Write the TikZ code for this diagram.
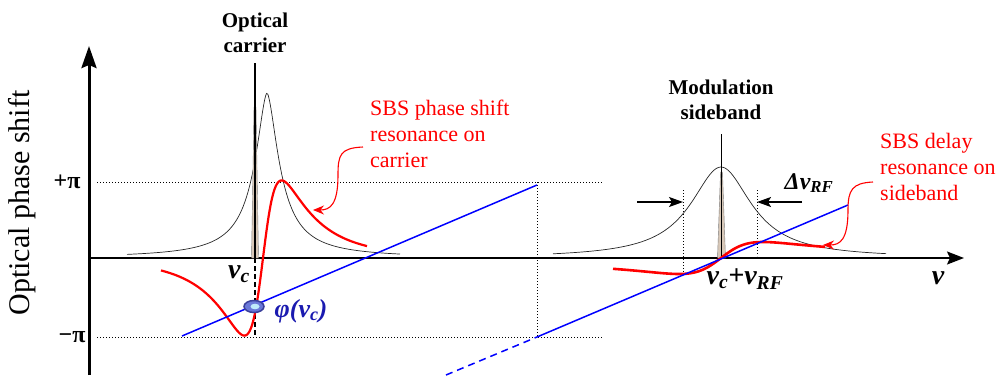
\documentclass[tikz,border=0pt]{standalone}
\usepackage{fontspec}
\setmainfont{Liberation Serif}
\usepackage{tikz}
\usetikzlibrary{arrows.meta}
\definecolor{spikeTan}{HTML}{D8C8B8}
\definecolor{phiBlue}{HTML}{1A1AB0}
\definecolor{markEdge}{HTML}{3A3F9A}
\definecolor{markFill}{HTML}{6A78D8}
\newcommand{\sbsfont}{\fontsize{22}{26}\selectfont}
\newcommand{\lblfont}{\fontsize{21}{25}\selectfont\bfseries}
\newcommand{\symfont}[1]{\fontsize{#1}{#1}\selectfont\bfseries\itshape}

\begin{document}
\begin{tikzpicture}[x=1pt, y=-1pt, >=Stealth,
  lbl/.style={font=\lblfont, align=center, inner sep=0pt},
  sbs/.style={text=red, font=\sbsfont, align=left, inner sep=0pt, anchor=north west},
  sym/.style={font=\symfont{28}, inner sep=0pt},
  gdot/.style={line width=0.9pt, dash pattern=on 1pt off 2pt},
  lor/.style={black!85, line width=0.7pt},
  callout/.style={red, line width=1.1pt, -{Stealth[length=11pt,width=9pt]}}]
  \useasboundingbox (0,0) rectangle (1000,375);
  % guides at +pi / -pi
  \foreach \yy in {182,337}{\draw[gdot] (97,\yy) -- (603,\yy);}
  \draw[gdot] (537,182) -- (537,337);
  \draw[gdot] (683,190) -- (683,272);
  \draw[gdot] (757,190) -- (757,256);
  % axes
  \draw[line width=3pt, -{Stealth[length=22pt,width=15pt,inset=3pt]}] (89,375) -- (89,46);
  \draw[line width=1.8pt, -{Stealth[length=17pt,width=13pt,inset=3pt]}] (88,258) -- (964,258);
  % carrier spectrum
  \draw[lor, domain=127:400, samples=220, smooth] plot (\x, {258-165/(1+pow(abs(\x-267)/15+0.001,1.7))});
  \filldraw[fill=spikeTan, draw=black!50, line width=0.4pt] (251.5,258) -- (254,107) -- (256,107) -- (258.5,258) -- cycle;
  \draw[line width=1.1pt] (255,258) -- (255,63);
  % sideband spectrum
  \draw[lor, domain=553:886, samples=160, smooth] plot (\x, {258-91/(1+((\x-721)/37)^2)});
  \filldraw[fill=spikeTan, draw=black!50, line width=0.4pt] (717.5,258) -- (720.5,172) -- (722.5,172) -- (725.5,258) -- cycle;
  \draw[line width=1.1pt] (721.5,258) -- (721.5,134);
  \draw[line width=1.5pt, dash pattern=on 5pt off 3pt] (255,258) -- (255,337);
  % SBS responses
  \draw[red, line width=2.2pt, domain=161:367, samples=150, smooth] plot (\x, {258-82*(2*(\x-263)/20.5)/(1+((\x-263)/20.5)^2)/(1+((\x-263)/82)^2)});
  \draw[red, line width=2.6pt, domain=613:825, samples=100, smooth] plot (\x, {258-16*(2*(\x-721)/42)/(1+((\x-721)/42)^2)});
  % linear phase
  \draw[blue, line width=1.5pt] (182,336) -- (537,185);
  \draw[blue, line width=1.5pt] (537,337) -- (848,205);
  \draw[blue, line width=1.5pt, dash pattern=on 7pt off 5pt] (446,375) -- (537,337);
  \filldraw[draw=markEdge, fill=markFill, line width=1.5pt] (254,306.5) ellipse [x radius=10, y radius=6];
  \fill[cyan!25!white] (255,306.5) ellipse [x radius=4.5, y radius=2.8];
  % labels
  \node[lbl] (carrier) at (255,33) {Optical\\carrier};
  \node[lbl] (sideband) at (721,100) {Modulation\\sideband};
  \node[sbs] (sbsCarrier) at (370,100) {SBS phase shift\\resonance on\\carrier};
  \node[sbs] (sbsSide) at (880,133) {SBS delay\\resonance on\\sideband};
  \node[font=\fontsize{30}{32}\selectfont, rotate=90] (ylab) at (22,203) {Optical phase shift};
  \node[font=\fontsize{24}{26}\selectfont\bfseries, inner sep=0pt] (plusPi) at (67,182) {+π};
  \node[font=\fontsize{24}{26}\selectfont\bfseries, inner sep=0pt] (minusPi) at (72,337) {−π};
  \node[sym] (nuC) at (239,274) {ν\textsubscript{c}};
  \node[sym] (nuSide) at (745,279) {ν\textsubscript{c}+ν\textsubscript{RF}};
  \node[sym] (nuAxis) at (938,278) {ν};
  \node[sym, font=\symfont{24}] (dNu) at (809,183) {Δν\textsubscript{RF}};
  \node[sym, text=phiBlue, font=\symfont{26}] (phi) at (301,311) {φ(ν\textsubscript{c})};
  % callouts
  \coordinate (carFrom) at (363,147);
  \coordinate (carTo) at (313,210);
  \draw[callout] (carFrom) .. controls (340,148) and (338,155) .. (338,175) .. controls (338,205) and (330,210) .. (carTo);
  \coordinate (sideFrom) at (873,182);
  \coordinate (sideTo) at (823,245);
  \draw[callout] (sideFrom) .. controls (852,183) and (848,190) .. (848,210) .. controls (848,240) and (840,245) .. (sideTo);
  % linewidth arrows
  \coordinate (lwFrom) at (637,202);
  \coordinate (lwTo) at (683,202);
  \coordinate (rwFrom) at (802,202);
  \coordinate (rwTo) at (757,202);
  \draw[line width=1.3pt, -{Stealth[length=14pt,width=10pt,inset=3pt]}] (lwFrom) -- (lwTo);
  \draw[line width=1.3pt, -{Stealth[length=14pt,width=10pt,inset=3pt]}] (rwFrom) -- (rwTo);
\end{tikzpicture}
\end{document}
